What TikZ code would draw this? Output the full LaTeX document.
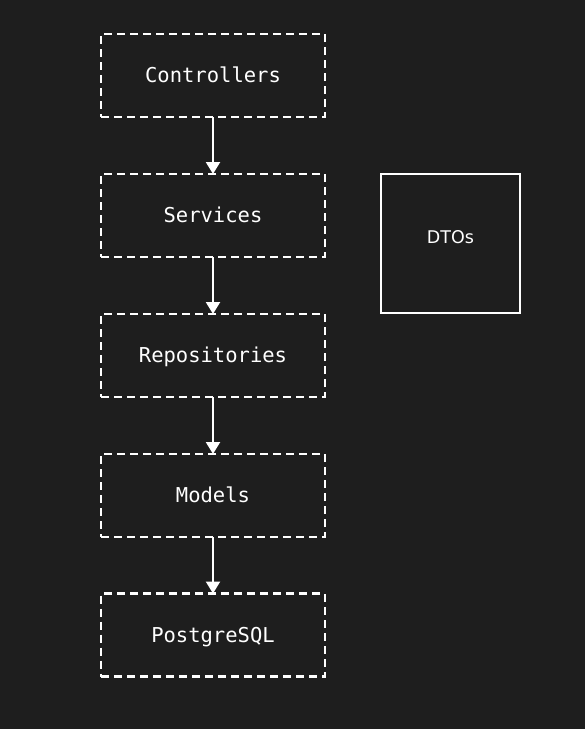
\documentclass[tikz,border=0pt]{standalone}
\usepackage{fontspec}
\setmonofont{DejaVu Sans Mono}
\newfontfamily\dtofont{DejaVu Sans}
\usetikzlibrary{arrows.meta}
\definecolor{bgc}{HTML}{1E1E1E}
\tikzset{
  layerbox/.style={draw=white, line width=2.8pt, dash pattern=on 8pt off 5pt,
    minimum width=224pt, minimum height=83pt, inner sep=0pt, outer sep=0pt,
    text=white, font=\ttfamily\fontsize{20.5pt}{23pt}\selectfont,
    text height=14.9pt, text depth=0pt},
  dtobox/.style={draw=white, line width=2.6pt, minimum width=139pt, minimum height=139pt,
    inner sep=0pt, outer sep=0pt, text=white, font=\dtofont\fontsize{17.5pt}{20pt}\selectfont,
    text height=12.8pt, text depth=13.4pt},
  flow/.style={draw=white, line width=2.2pt, -{Triangle[width=14pt,length=12pt]}}
}
\begin{document}
\begin{tikzpicture}[x=1pt,y=-1pt]
\fill[bgc] (0,0) rectangle (585,729);
\useasboundingbox (0,0) rectangle (585,729);
\node[layerbox] (ctrl) at (213,75.5) {Controllers};
\node[layerbox] (serv) at (213,215.5) {Services};
\node[layerbox] (repo) at (213,355.5) {Repositories};
\node[layerbox] (mod) at (213,495.5) {Models};
\node[layerbox] (pg) at (213,635) {PostgreSQL};
\node[dtobox] (dtos) at (450.5,243.5) {DTOs};
\draw[flow] (ctrl.south) -- (serv.north);
\draw[flow] (serv.south) -- (repo.north);
\draw[flow] (repo.south) -- (mod.north);
\draw[flow] (mod.south) -- (pg.north);
\end{tikzpicture}
\end{document}
